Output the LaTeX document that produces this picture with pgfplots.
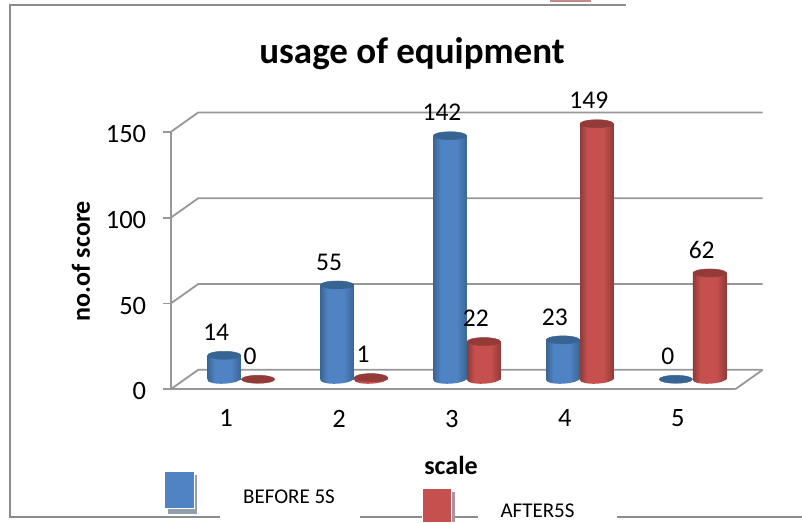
\documentclass[border=0pt]{standalone}
\usepackage{pgfplots}
\pgfplotsset{compat=1.18}
\usepackage{fontspec}
\setmainfont{Carlito}
\usetikzlibrary{shapes.geometric}

\definecolor{wallgrey}{HTML}{979797}
\definecolor{framegrey}{HTML}{8C8C8C}
\definecolor{blueD}{HTML}{3A6694}
\definecolor{blueM}{HTML}{5083C4}
\definecolor{redD}{HTML}{8F3B39}
\definecolor{redM}{HTML}{C6504D}
\definecolor{blueCap}{HTML}{376492}
\definecolor{redCap}{HTML}{933B39}

\pgfdeclarehorizontalshading{cylblue}{100bp}{
  color(0bp)=(blueD); color(25bp)=(blueD); color(36bp)=(blueM); color(60bp)=(blueM); color(75bp)=(blueD); color(100bp)=(blueD)}
\pgfdeclarehorizontalshading{cylred}{100bp}{
  color(0bp)=(redD); color(25bp)=(redD); color(36bp)=(redM); color(60bp)=(redM); color(75bp)=(redD); color(100bp)=(redD)}

% top of a cylinder, with its data label: x, value, cap colour
\newcommand{\cylcap}[3]{
  \addplot[only marks,mark=*,mark size=16.7pt,forget plot,nodes near coords,
    mark options={fill=#3,draw=#3,yscale=0.24,rotate=4}]
    coordinates {(#1,#2)};
}
% foot, body and top: x, value, shading, cap colour
\newcommand{\cyl}[4]{
  \addplot[draw=none,mark=none,forget plot,nodes near coords={},
    every node near coord/.style={ellipse,inner sep=0pt,minimum width=33.4pt,
      minimum height=8.8pt,shading=#3,rotate=3,anchor=center}]
    coordinates {(#1,0)};
  \addplot[ybar,bar width=33.4pt,bar shift=0pt,draw=none,shading=#3,forget plot]
    coordinates {(#1,#2)};
  \cylcap{#1}{#2}{#4}
}

\begin{document}
\begin{tikzpicture}[x=1pt,y=1pt]
\path[use as bounding box] (0,0) rectangle (802,522);

% page furniture
\draw[framegrey,line width=1.8pt] (626,516.7) -- (10,516.7) -- (10,5.3) -- (220,5.3);
\draw[framegrey,line width=1.8pt] (360,5.3) -- (478,5.3);
\draw[framegrey,line width=1.8pt] (617,5.3) -- (802,5.3);
\fill[red!30!gray!70] (550,520) rectangle (591,522);

% front plane: axis, ticks, back wall
\begin{axis}[
  at={(170.7pt,132.7pt)},anchor=south west,
  scale only axis,width=564.5pt,height=257.3pt,
  xmin=0.5,xmax=5.5,ymin=0,ymax=150,
  clip=false,
  axis x line=bottom,axis y line=left,
  axis line style={wallgrey,line width=1.8pt,-},
  xtick={1,2,3,4,5},
  ytick={0,50,100,150},
  major tick length=8pt,
  tick align=outside,
  tick style={wallgrey,line width=1.8pt},
  xtick style={draw=none},
  tick label style={font=\fontsize{26.5}{28}\selectfont},
  yticklabel style={xshift=-13pt,yshift=-2pt},
  xticklabel style={xshift=-1pt,yshift=-9pt},
  /pgf/number format/assume math mode=true,
]
\pgfplotsinvokeforeach{0,50,100,150}{
  \draw[wallgrey,line width=1.8pt] (axis cs:0.5,#1) -- ++(27.5pt,19.5pt) -- ++(564.5pt,0pt);
}
\draw[wallgrey,line width=1.8pt] (axis cs:5.5,0) -- ++(27.5pt,19.5pt);
\end{axis}

% the cylinders stand half way into the floor
\begin{axis}[
  at={(184.7pt,142.7pt)},anchor=south west,
  scale only axis,width=564.5pt,height=257.3pt,
  xmin=0.5,xmax=5.5,ymin=0,ymax=150,
  clip=false,hide axis,
  /pgf/number format/assume math mode=true,
  every node near coord/.append style={
    anchor=center,xshift=-8pt,yshift=23pt,text=black,
    font=\fontsize{25.5}{27}\selectfont},
]
% BEFORE 5S
\cyl{0.85}{14}{cylblue}{blueCap}
\cyl{1.85}{55}{cylblue}{blueCap}
\cyl{2.85}{142}{cylblue}{blueCap}
\cyl{3.85}{23}{cylblue}{blueCap}
\cylcap{4.85}{0}{blueCap}
% AFTER5S
\cylcap{1.15}{0}{redCap}
\cyl{2.15}{1}{cylred}{redCap}
\cyl{3.15}{22}{cylred}{redCap}
\cyl{4.15}{149}{cylred}{redCap}
\cyl{5.15}{62}{cylred}{redCap}
\end{axis}

% titles
\node[font=\fontsize{37}{40}\selectfont\bfseries] at (412,468) {usage of equipment};
\node[font=\fontsize{26}{28}\selectfont\bfseries,rotate=90] at (81,261) {no.of score};
\node[font=\fontsize{26}{28}\selectfont\bfseries] at (451,57) {scale};

% hand-made legend
\fill[blueD!40!gray!70] (168,8) rectangle (197,47);
\fill[blueM,draw=white] (164.5,14) rectangle (193.7,51);
\fill[redD!30!gray!70] (425,0) rectangle (454.5,30);
\fill[redM,draw=white] (422,0) rectangle (451,34);
\node[font=\fontsize{21}{23}\selectfont] at (289,25) {BEFORE 5S};
\node[font=\fontsize{21}{23}\selectfont] at (537.5,11) {AFTER5S};
\end{tikzpicture}
\end{document}
